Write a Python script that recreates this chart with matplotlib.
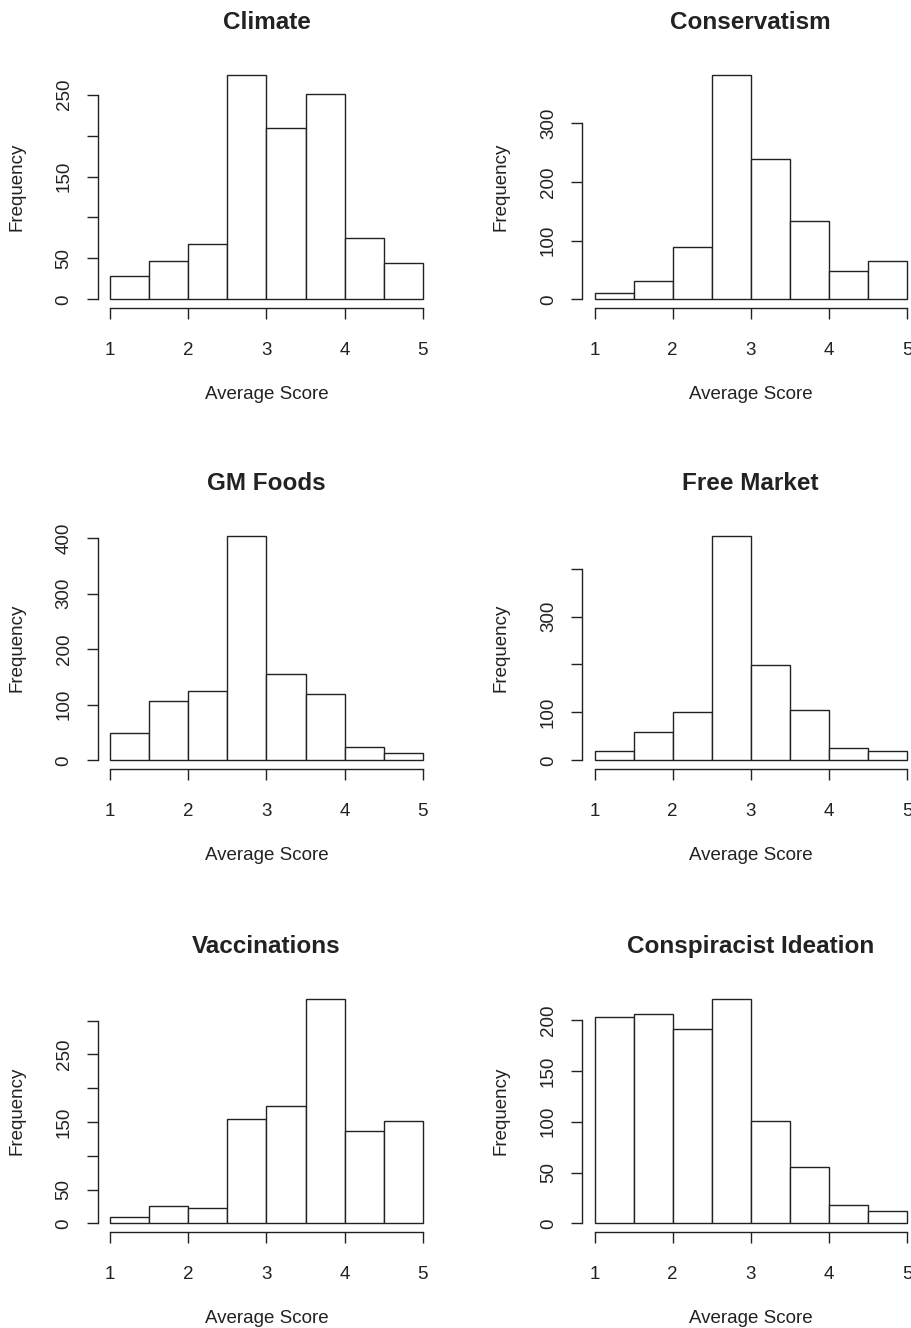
import numpy as np
import matplotlib.pyplot as plt

plt.rcParams['font.family'] = ['Liberation Sans', 'DejaVu Sans']

# histogram data (bins of width 0.5 from 1 to 5)
bins = [1.0, 1.5, 2.0, 2.5, 3.0, 3.5, 4.0, 4.5, 5.0]
titles = ["Climate", "Conservatism", "GM Foods", "Free Market",
          "Vaccinations", "Conspiracist Ideation"]

climate = [29, 47, 68, 274, 209, 251, 75, 44]
conservatism = [10, 31, 89, 382, 239, 133, 49, 66]
gm_foods = [49, 106, 125, 404, 155, 120, 24, 13]
free_market = [19, 60, 101, 468, 199, 104, 25, 19]
vaccinations = [9, 25, 22, 154, 174, 332, 136, 151]
conspiracist = [203, 206, 191, 221, 101, 55, 18, 12]
counts = [climate, conservatism, gm_foods, free_market, vaccinations, conspiracist]

# y axis ticks and the labels R kept
yticks = [[0, 50, 100, 150, 200, 250],
          [0, 100, 200, 300],
          [0, 100, 200, 300, 400],
          [0, 100, 200, 300, 400],
          [0, 50, 100, 150, 200, 250, 300],
          [0, 50, 100, 150, 200]]
ylabels = [["0", "50", "", "150", "", "250"],
           ["0", "100", "200", "300"],
           ["0", "100", "200", "300", "400"],
           ["0", "100", "", "300", ""],
           ["0", "50", "", "150", "", "250", ""],
           ["0", "50", "100", "150", "200"]]
xticks = [1, 2, 3, 4, 5]

ink = "#222222"
W, H = 912, 1328
fig = plt.figure(figsize=(W / 100, H / 100), dpi=100)

lefts = [97.7, 582.0]
bottoms = [308.3, 769.3, 1232.3]
aw, ah = 337.5, 242.3

for i in range(6):
    r, c = divmod(i, 2)
    ax = fig.add_axes([lefts[c] / W, 1 - bottoms[r] / H, aw / W, ah / H])
    cnt = counts[i]
    ax.bar(bins[:-1], cnt, width=np.diff(bins), align='edge',
           facecolor='white', edgecolor=ink, linewidth=1.0)
    m = max(cnt)
    ax.set_xlim(1 - 0.16, 5 + 0.16)
    ax.set_ylim(-0.04 * m, 1.04 * m)

    for s in ['top', 'right']:
        ax.spines[s].set_visible(False)
    ax.spines['bottom'].set_bounds(1, 5)
    ax.spines['left'].set_bounds(yticks[i][0], yticks[i][-1])
    for s in ['bottom', 'left']:
        ax.spines[s].set_color(ink)
        ax.spines[s].set_linewidth(1.0)

    ax.set_xticks(xticks)
    ax.set_xticklabels([str(x) for x in xticks])
    ax.set_yticks(yticks[i])
    ax.set_yticklabels(ylabels[i], rotation=90, va='center')
    ax.tick_params(direction='out', length=8, width=1.0, color=ink,
                   labelcolor=ink, labelsize=13.5)
    ax.tick_params(axis='x', pad=16.5)
    ax.tick_params(axis='y', pad=10)

    ax.set_title(titles[i], fontsize=17.5, fontweight='bold', color=ink,
                 y=1.153, pad=0)
    ax.set_xlabel("Average Score", fontsize=13.5, color=ink, va='center')
    ax.xaxis.set_label_coords(0.5, -0.355)
    ax.set_ylabel("Frequency", fontsize=13.5, color=ink, va='center')
    ax.yaxis.set_label_coords(-0.239, 0.5)

fig.savefig("out.png", dpi=100)
